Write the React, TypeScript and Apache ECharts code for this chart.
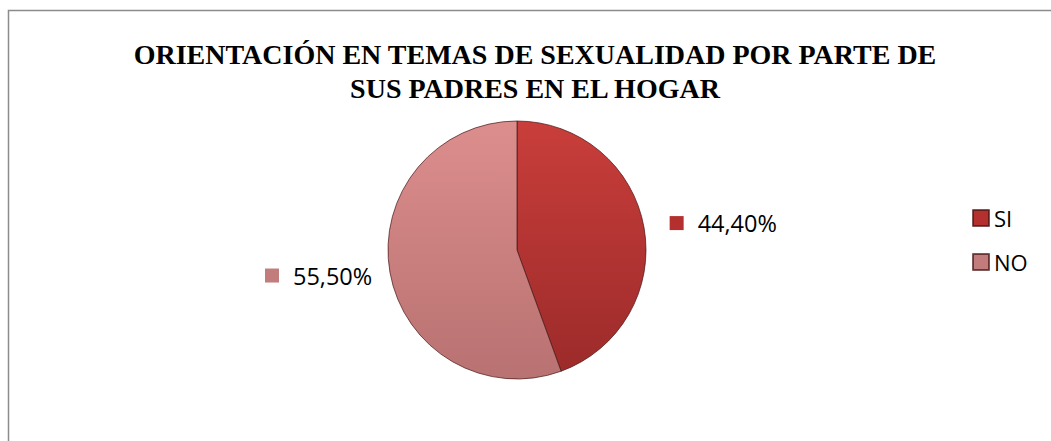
import React, { useEffect, useRef } from "react";
import * as echarts from "echarts";

const categories = ["SI", "NO"];
const values = [44.4, 55.5];
const valueLabels = ["44,40%", "55,50%"];
const titleLines = [
  "ORIENTACIÓN EN TEMAS DE SEXUALIDAD POR PARTE DE",
  "SUS PADRES EN EL HOGAR",
];

const sliceColors = [
  new echarts.graphic.LinearGradient(0, 0, 0, 1, [
    { offset: 0, color: "#c93e3b" },
    { offset: 1, color: "#9c2b2a" },
  ]),
  new echarts.graphic.LinearGradient(0, 0, 0, 1, [
    { offset: 0, color: "#dc8e8d" },
    { offset: 1, color: "#b87271" },
  ]),
];
const markerColors = ["#b3302e", "#c27c7b"];
const labelLineLengths = [26, 18];

export default function App() {
  const ref = useRef<HTMLDivElement>(null);
  useEffect(() => {
    if (!ref.current) return;
    const chart = echarts.init(ref.current, undefined, { renderer: "svg" });
    chart.setOption({
      animation: false,
      backgroundColor: "#ffffff",
      title: {
        text: titleLines.join("\n"),
        left: 530,
        textAlign: "center",
        top: 32,
        textStyle: {
          fontFamily: "Liberation Serif",
          fontWeight: "bold",
          fontSize: 28,
          lineHeight: 34,
          color: "#000",
        },
      },
      legend: {
        orient: "vertical",
        left: 972,
        top: 207,
        padding: 0,
        icon: "rect",
        itemWidth: 16,
        itemHeight: 16,
        itemGap: 22,
        data: categories.map((c, i) => ({
          name: c,
          itemStyle: { color: markerColors[i] },
        })),
        textStyle: { fontFamily: "Open Sans", fontSize: 22, lineHeight: 16, color: "#000" },
      },
      graphic: [
        {
          type: "rect",
          shape: { x: 8.5, y: 10.5, width: 1100, height: 500 },
          style: { fill: "none", stroke: "#8c8c8c", lineWidth: 1.5 },
          silent: true,
        },
      ],
      series: [
        {
          type: "pie",
          center: [517, 250],
          radius: 129,
          startAngle: 90,
          clockwise: true,
          data: categories.map((c, i) => ({
            name: c,
            value: values[i],
            itemStyle: { color: sliceColors[i] },
            labelLine: { length: labelLineLengths[i], length2: 0 },
            label: {
              formatter: "{m|}{t|" + valueLabels[i] + "}",
              rich: {
                m: {
                  width: 14,
                  height: 14,
                  backgroundColor: markerColors[i],
                },
                t: {
                  fontFamily: "Open Sans",
                  fontSize: 23.5,
                  color: "#000",
                  padding: [0, 0, 0, 14],
                },
              },
            },
          })),
          itemStyle: { borderColor: "rgba(70,20,20,0.7)", borderWidth: 1 },
          label: { show: true, position: "outside", distanceToLabelLine: 0 },
          labelLine: { show: false },
        },
      ],
    });
    return () => chart.dispose();
  }, []);
  return (
    <div
      ref={ref}
      style={{ position: "absolute", left: 0, top: 0, width: 1051, height: 441 }}
    />
  );
}
